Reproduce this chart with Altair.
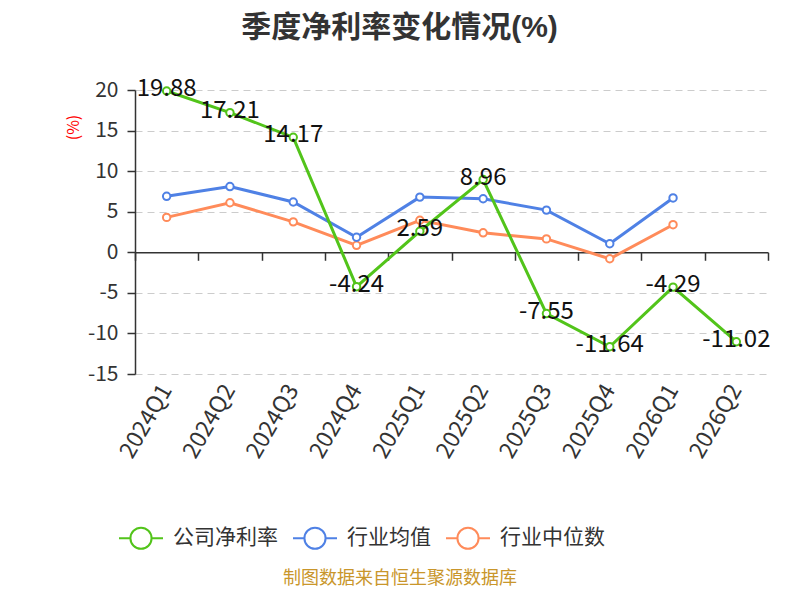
import altair as alt
import pandas as pd

quarters = ["2024Q1", "2024Q2", "2024Q3", "2024Q4", "2025Q1", "2025Q2",
            "2025Q3", "2025Q4", "2026Q1", "2026Q2"]
company = [19.88, 17.21, 14.17, -4.24, 2.59, 8.96, -7.55, -11.64, -4.29, -11.02]
ind_mean = [6.9, 8.1, 6.2, 1.85, 6.8, 6.6, 5.2, 1.05, 6.7]
ind_median = [4.3, 6.1, 3.75, 0.86, 3.95, 2.4, 1.65, -0.8, 3.4]

series_names = ["公司净利率", "行业均值", "行业中位数"]
series_colors = ["#52c41a", "#4f81e5", "#ff8b5a"]
y_ticks = [-15, -10, -5, 0, 5, 10, 15, 20]
y_min, y_max = -15, 20
title_text = "季度净利率变化情况(%)"
source_text = "制图数据来自恒生聚源数据库"

FONT = "Noto Sans CJK SC"
TITLE_FONT = "Liberation Sans, Noto Sans CJK SC"
W, H = 633, 284

rows = []
for q, v in zip(quarters, ind_median):
    rows.append({"quarter": q, "series": series_names[2], "value": v, "label": ""})
for q, v in zip(quarters, ind_mean):
    rows.append({"quarter": q, "series": series_names[1], "value": v, "label": ""})
for q, v in zip(quarters, company):
    rows.append({"quarter": q, "series": series_names[0], "value": v,
                 "label": f"{v:.2f}"})
df = pd.DataFrame(rows)

x_sort = quarters
y_scale = alt.Scale(domain=[y_min, y_max], nice=False, zero=False)

main_x_axis = alt.Axis(
    title=None, domain=False, ticks=False, grid=False, orient="bottom",
    labelAngle=-60, labelAlign="right", labelBaseline="middle",
    labelFontSize=23, labelColor="#333", labelFont=FONT, labelPadding=12,
)
zero_x_axis = alt.Axis(
    title=None, labels=False, grid=False, domain=True, ticks=True,
    tickBand="extent", tickSize=8, tickColor="#333", domainColor="#333",
    domainWidth=1.5, tickWidth=1.5, orient="bottom",
    offset=-H * (0 - y_min) / (y_max - y_min),
)
y_axis = alt.Axis(
    values=y_ticks, title="(%)", titleColor="red", titleFontSize=16,
    titleFont=FONT, titleFontWeight="normal", titleAngle=270,
    titleX=-62, titleY=37, titleAlign="center", titleBaseline="middle",
    labelFontSize=21, labelColor="#333", labelFont=FONT, labelPadding=9,
    labelExpr="datum.value + ''",
    tickSize=8, tickColor="#333", tickWidth=1.5,
    domainColor="#333", domainWidth=1.5,
    grid=True, gridColor="#cccccc", gridDash=[7, 5], gridWidth=1,
)

legend_symbol = ("M-1,0H-0.48M0.48,0H1M0.48,0A0.48,0.48,0,1,1,-0.48,0"
                 "A0.48,0.48,0,1,1,0.48,0")

color = alt.Color(
    "series:N",
    scale=alt.Scale(domain=series_names, range=series_colors),
    legend=alt.Legend(
        title=None, orient="none", direction="horizontal",
        legendX=-17, legendY=425,
        symbolType=legend_symbol, symbolSize=1936, symbolStrokeWidth=2,
        symbolFillColor="white",
        labelFontSize=21, labelFont=FONT, labelColor="#333",
        labelOffset=9, columnPadding=11,
    ),
)

lines = alt.Chart(df).mark_line(
    strokeWidth=3,
    point=alt.OverlayMarkDef(filled=False, fill="white", size=55, strokeWidth=2,
                             opacity=1),
).encode(
    x=alt.X("quarter:N", sort=x_sort, axis=main_x_axis),
    y=alt.Y("value:Q", scale=y_scale, axis=y_axis),
    color=color,
)

labels = alt.Chart(df).transform_filter(
    alt.datum.series == series_names[0]
).mark_text(fontSize=24, font=FONT, color="#111", dy=-2, baseline="middle").encode(
    x=alt.X("quarter:N", sort=x_sort, axis=None),
    y=alt.Y("value:Q", scale=y_scale, axis=None),
    text=alt.Text("label:N"),
)

zero_axis = alt.Chart(df).mark_point(opacity=0).encode(
    x=alt.X("quarter:N", sort=x_sort, axis=zero_x_axis),
    y=alt.Y("value:Q", scale=y_scale, axis=None),
)

source = alt.Chart(pd.DataFrame({"t": [source_text]})).mark_text(
    fontSize=18, font=FONT, color="#c9962b", baseline="middle", align="center"
).encode(
    text="t:N", x=alt.value(265), y=alt.value(489),
)

chart = alt.layer(zero_axis, lines, labels, source).resolve_axis(
    x="independent", y="independent"
).properties(
    width=W, height=H,
    title=alt.TitleParams(
        text=title_text, fontSize=30, fontWeight="bold", color="#333",
        font=TITLE_FONT, anchor="middle", dx=-52, offset=34,
    ),
    autosize=alt.AutoSizeParams(type="none"),
    padding={"left": 127, "top": 82, "right": 24, "bottom": 218},
).configure_view(stroke=None)

chart.save("out.html", embed_options={"renderer": "svg", "actions": False})
